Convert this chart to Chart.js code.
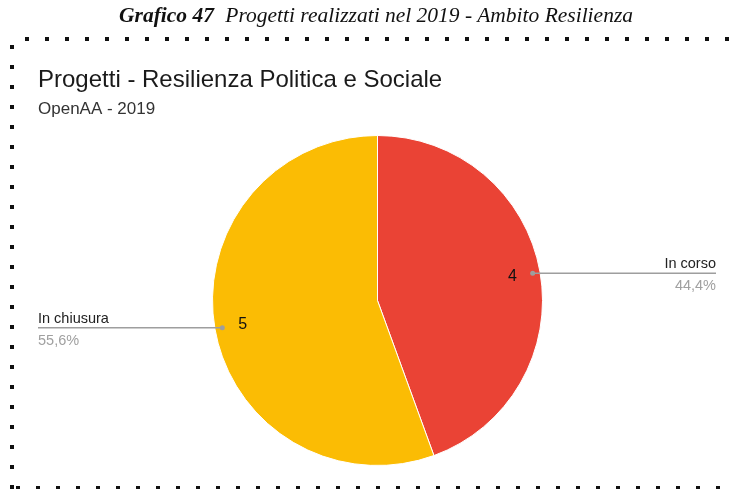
<!DOCTYPE html>
<html>
<head>
<meta charset="utf-8">
<script src="https://cdn.jsdelivr.net/npm/chart.js@4.4.1/dist/chart.umd.min.js"></script>
<style>
  html, body { margin: 0; padding: 0; background: #fff; }
  #wrap { position: relative; width: 732px; height: 489px; overflow: hidden; }
  #caption {
    position: absolute; left: 0; top: 3px; width: 752px; text-align: center;
    font-family: "Liberation Serif", "DejaVu Serif", serif; font-style: italic;
    font-size: 21.5px; color: #111; white-space: nowrap;
  }
  #caption b { font-weight: bold; margin-right: 6px; }
  canvas { position: absolute; left: 0; top: 0; }
</style>
</head>
<body>
<div id="wrap">
  <canvas id="myChart" width="732" height="489"></canvas>
  <div id="caption"><b>Grafico 47</b> Progetti realizzati nel 2019 - Ambito Resilienza</div>
</div>
<script>
const chartTitle = 'Progetti - Resilienza Politica e Sociale';
const chartSubtitle = 'OpenAA - 2019';
const categories = ['In corso', 'In chiusura'];
const progetti = [4, 5];
const colori = ['#EA4335', '#FBBC04'];

// cornice tratteggiata attorno al grafico
const framePlugin = {
  id: 'frame',
  beforeDraw(chart) {
    const ctx = chart.ctx;
    ctx.save();
    ctx.fillStyle = '#111';
    for (let x = 25; x < 732; x += 20) ctx.fillRect(x, 37, 4, 4);
    for (let y = 45; y < 489; y += 20) ctx.fillRect(10, y, 4, 4);
    for (let x = 16; x < 732; x += 20) ctx.fillRect(x, 486, 4, 4);
    ctx.restore();
  }
};

// titolo, sottotitolo ed etichette con linee guida
const labelPlugin = {
  id: 'pieLabels',
  afterDatasetsDraw(chart) {
    const ctx = chart.ctx;
    const meta = chart.getDatasetMeta(0);
    const total = progetti.reduce((a, b) => a + b, 0);
    ctx.save();
    ctx.textBaseline = 'alphabetic';
    ctx.fillStyle = '#1a1a1a';
    ctx.font = '24px "Liberation Sans", Arial, sans-serif';
    ctx.textAlign = 'left';
    ctx.fillText(chartTitle, 38, 87);
    ctx.fillStyle = '#333';
    ctx.font = '17px "Liberation Sans", Arial, sans-serif';
    ctx.fillText(chartSubtitle, 38, 114);

    meta.data.forEach((arc, i) => {
      const { x, y, startAngle, endAngle, outerRadius } = arc.getProps(['x', 'y', 'startAngle', 'endAngle', 'outerRadius'], true);
      const mid = (startAngle + endAngle) / 2;
      const cos = Math.cos(mid), sin = Math.sin(mid);
      const right = cos >= 0;

      // valore dentro la fetta
      ctx.fillStyle = '#111';
      ctx.font = '16px "Liberation Sans", Arial, sans-serif';
      ctx.textAlign = 'center';
      ctx.textBaseline = 'middle';
      ctx.fillText(String(progetti[i]), x + cos * outerRadius * 0.83, y + sin * outerRadius * 0.83);

      // linea guida
      const px = x + cos * outerRadius * 0.955;
      const py = y + sin * outerRadius * 0.955;
      const endX = right ? 716 : 38;
      ctx.strokeStyle = '#9e9e9e';
      ctx.fillStyle = '#9e9e9e';
      ctx.lineWidth = 1.5;
      ctx.beginPath();
      ctx.moveTo(px, py);
      ctx.lineTo(endX, py);
      ctx.stroke();
      ctx.beginPath();
      ctx.arc(px, py, 2.5, 0, Math.PI * 2);
      ctx.fill();

      ctx.textAlign = right ? 'right' : 'left';
      ctx.textBaseline = 'alphabetic';
      ctx.font = '14.5px "Liberation Sans", Arial, sans-serif';
      ctx.fillStyle = '#222';
      ctx.fillText(categories[i], endX, py - 5);
      ctx.fillStyle = '#a0a0a0';
      const pct = (progetti[i] / total * 100).toFixed(1).replace('.', ',') + '%';
      ctx.fillText(pct, endX, py + 17);
    });
    ctx.restore();
  }
};

new Chart(document.getElementById('myChart'), {
  type: 'pie',
  data: {
    labels: categories,
    datasets: [{
      data: progetti,
      backgroundColor: colori,
      borderColor: '#fff',
      borderWidth: 1
    }]
  },
  options: {
    responsive: false,
    animation: false,
    layout: { padding: { top: 135, bottom: 23, left: 212, right: 189 } },
    plugins: {
      legend: { display: false },
      tooltip: { enabled: false }
    }
  },
  plugins: [framePlugin, labelPlugin]
});
</script>
</body>
</html>
